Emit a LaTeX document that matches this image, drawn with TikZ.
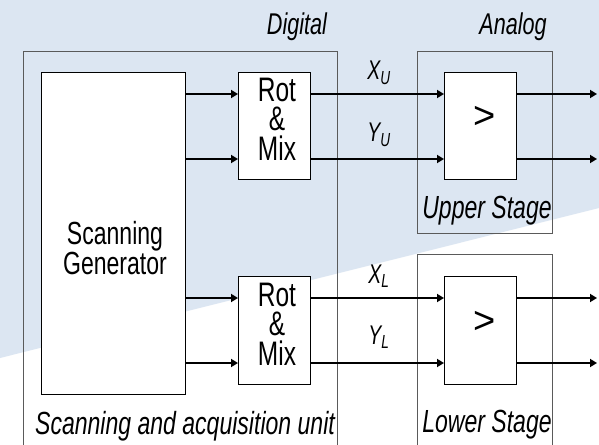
\documentclass[tikz,border=0pt]{standalone}
\usepackage{fontspec}
\setmainfont{Liberation Sans}[FakeStretch=0.72]
\newfontfamily\plainfont{Liberation Sans}
\usetikzlibrary{arrows.meta}
\definecolor{bgblue}{HTML}{DCE6F2}
\definecolor{framegray}{HTML}{5A5A5A}
\tikzset{
  frame/.style={draw=framegray, line width=0.9pt, inner sep=0pt, anchor=north west},
  blk/.style={draw=black, line width=0.8pt, fill=white, inner sep=0pt, anchor=north west},
  arr/.style={line width=1.7pt, -{Triangle[length=7pt,width=8pt]}},
  lbl/.style={inner sep=0pt, anchor=base, font=\fontsize{32}{32}\selectfont\itshape},
  sig/.style={inner sep=0pt, font=\fontsize{27}{27}\selectfont\itshape},
  rotmix/.style={inner sep=0pt, align=center, font=\fontsize{34}{29.5}\selectfont},
}
\begin{document}
\begin{tikzpicture}[x=1pt,y=-1pt]
\useasboundingbox (0,0) rectangle (599,444);
\fill[white] (0,0) rectangle (599,444);
\fill[bgblue] (0,0) -- (599,0) -- (599,208) -- (0,358) -- cycle;

% frames
\node[frame, minimum width=314pt, minimum height=400pt] (unit) at (23,51) {};
\node[frame, minimum width=135pt, minimum height=182pt] (upper) at (417,51) {};
\node[frame, minimum width=135pt, minimum height=200pt] (lower) at (417,254) {};

% blocks
\node[blk, minimum width=144pt, minimum height=322pt] (gen) at (41,72) {};
\node[blk, minimum width=72pt, minimum height=107pt] (rotU) at (238,72) {};
\node[blk, minimum width=72pt, minimum height=108pt] (rotL) at (238,276) {};
\node[blk, minimum width=72pt, minimum height=107pt] (cmpU) at (444,72) {};
\node[blk, minimum width=72pt, minimum height=108pt] (cmpL) at (444,276) {};

% block texts
\node[inner sep=0pt, align=center, font=\fontsize{32}{27}\selectfont] (genT) at (115,248) {Scanning\\Generator};
\node[rotmix] (rotUT) at (277,119) {Rot\\\&\\Mix};
\node[rotmix] (rotLT) at (277,324) {Rot\\\&\\Mix};
\node[inner sep=0pt, font=\plainfont\fontsize{38}{38}\selectfont] (cmpUT) at (485,117) {>};
\node[inner sep=0pt, font=\plainfont\fontsize{38}{38}\selectfont] (cmpLT) at (485,322) {>};

% frame labels
\node[lbl, font=\fontsize{30}{30}\selectfont\itshape] (dig) at (297,35) {Digital};
\node[lbl, font=\fontsize{30}{30}\selectfont\itshape] (ana) at (513,35) {Analog};
\node[lbl] (upl) at (487,218) {Upper Stage};
\node[lbl] (lol) at (487,432) {Lower Stage};
\node[lbl] (unl) at (185,434) {Scanning and acquisition unit};

% signal labels
\node[sig] (xu) at (379,73) {X\textsubscript{U}};
\node[sig] (yu) at (379,135) {Y\textsubscript{U}};
\node[sig] (xl) at (379,276) {X\textsubscript{L}};
\node[sig] (yl) at (379,337) {Y\textsubscript{L}};

% output ends
\coordinate (o1) at (597,94);
\coordinate (o2) at (597,159);
\coordinate (o3) at (597,298);
\coordinate (o4) at (597,363);

% connectors
\draw[arr] (gen.east |- 0,94) -- (rotU.west |- 0,94);
\draw[arr] (gen.east |- 0,159) -- (rotU.west |- 0,159);
\draw[arr] (gen.east |- 0,298) -- (rotL.west |- 0,298);
\draw[arr] (gen.east |- 0,363) -- (rotL.west |- 0,363);
\draw[arr] (rotU.east |- o1) -- (cmpU.west |- o1);
\draw[arr] (rotU.east |- o2) -- (cmpU.west |- o2);
\draw[arr] (rotL.east |- o3) -- (cmpL.west |- o3);
\draw[arr] (rotL.east |- o4) -- (cmpL.west |- o4);
\draw[arr] (cmpU.east |- o1) -- (o1);
\draw[arr] (cmpU.east |- o2) -- (o2);
\draw[arr] (cmpL.east |- o3) -- (o3);
\draw[arr] (cmpL.east |- o4) -- (o4);
\end{tikzpicture}
\end{document}
